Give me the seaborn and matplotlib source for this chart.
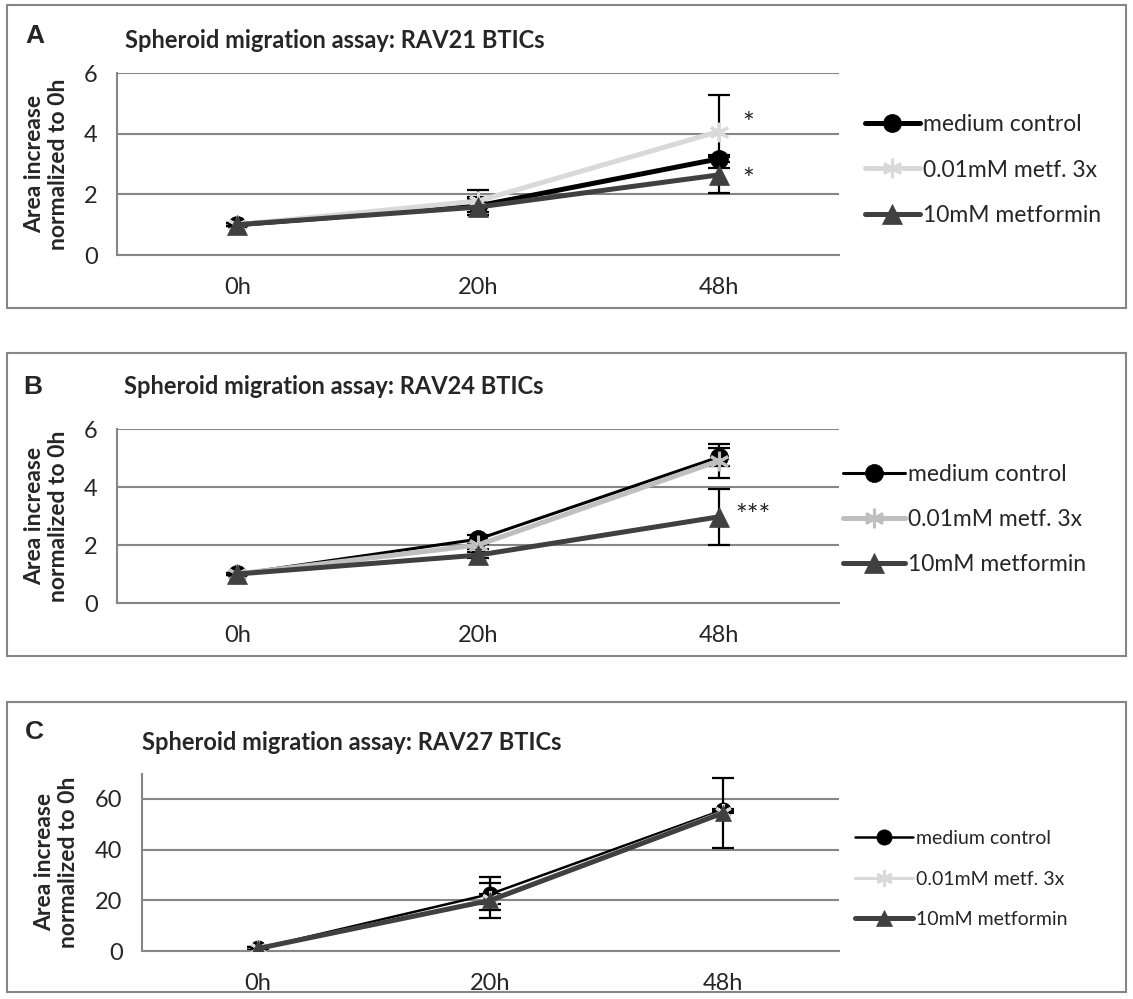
import matplotlib
matplotlib.use("Agg")
import matplotlib.pyplot as plt
import numpy as np
import seaborn as sns
from matplotlib.patches import Rectangle

# categories and series names
times = ["0h", "20h", "48h"]
series_names = ["medium control", "0.01mM metf. 3x", "10mM metformin"]

# panel A: RAV21 BTICs
rav21_control = [1.0, 1.62, 3.17]
rav21_low = [1.0, 1.78, 4.07]
rav21_high = [1.0, 1.58, 2.64]
rav21_control_err = [0.05, 0.30, 0.12]
rav21_low_err = [0.05, 0.35, 1.20]
rav21_high_err = [0.05, 0.25, 0.60]

# panel B: RAV24 BTICs
rav24_control = [1.0, 2.20, 5.03]
rav24_low = [1.0, 2.00, 4.90]
rav24_high = [1.0, 1.65, 2.97]
rav24_control_err = [0.05, 0.15, 0.30]
rav24_low_err = [0.05, 0.15, 0.60]
rav24_high_err = [0.05, 0.10, 0.97]

# panel C: RAV27 BTICs
rav27_control = [1.0, 22.5, 55.6]
rav27_low = [1.0, 20.5, 55.0]
rav27_high = [1.0, 20.0, 54.4]
rav27_control_err = [0.5, 6.5, 0.5]
rav27_low_err = [0.5, 2.0, 0.5]
rav27_high_err = [0.5, 7.0, 13.8]

sns.set_style("white")
plt.rcParams["font.family"] = ["Lato", "DejaVu Sans"]

GRID = "#868686"
DPI = 100
W, H = 1133, 999

fig = plt.figure(figsize=(W / DPI, H / DPI), dpi=DPI)


def px_axes(left, right, top, bottom):
    return fig.add_axes([left / W, 1 - bottom / H, (right - left) / W, (bottom - top) / H])


def box(left, right, top, bottom):
    fig.patches.append(Rectangle((left / W, 1 - bottom / H), (right - left) / W, (bottom - top) / H,
                                 transform=fig.transFigure, fill=False, edgecolor=GRID, lw=1.5))


def style_axes(ax, ymax, yticks, fs):
    ax.set_xlim(-0.5, len(times) - 0.5)
    ax.set_ylim(0, ymax)
    ax.set_xticks(np.arange(len(times)))
    ax.set_xticklabels(times)
    ax.set_xticks(np.arange(len(times) + 1) - 0.5, minor=True)
    ax.set_yticks(yticks)
    ax.tick_params(axis="x", which="major", length=0, pad=16, labelsize=fs)
    ax.tick_params(axis="x", which="minor", length=8, width=1.5, color=GRID, direction="out")
    ax.tick_params(axis="y", length=7, width=1.5, color=GRID, direction="out", pad=7, labelsize=fs)
    ax.yaxis.grid(True, color=GRID, lw=1.5)
    ax.set_axisbelow(True)
    for s in ["top", "right"]:
        ax.spines[s].set_visible(False)
    for s in ["left", "bottom"]:
        ax.spines[s].set_color(GRID)
        ax.spines[s].set_linewidth(1.5)
    ax.set_xlabel("")


def draw_panel(ax, data, errs, colors, lws, msizes, legend_kw):
    x = np.arange(len(times))
    markers = ["o", (6, 2, 0), "^"]
    for i, (vals, err) in enumerate(zip(data, errs)):
        ax.errorbar(x, vals, yerr=err, fmt="none", ecolor="black", elinewidth=1.6,
                    capsize=8, capthick=1.6, zorder=2.5)
        sns.lineplot(x=x, y=vals, ax=ax, color=colors[i], lw=lws[i], marker=markers[i],
                     markersize=msizes[i], markeredgecolor=colors[i],
                     markeredgewidth=2.2 if i == 1 else 0.5,
                     label=series_names[i], zorder=3 + i)
    ax.legend(frameon=False, loc="center left", borderpad=0, borderaxespad=0, **legend_kw)


def ylabel(ax, xpos, fs=16.5):
    ax.set_ylabel("Area increase\nnormalized to 0h", fontweight="bold", fontsize=fs)
    ax.yaxis.set_label_coords(xpos, 0.5)


# ---------- panel A ----------
box(7, 1126, 5, 308)
axA = px_axes(117, 839, 73, 255)
draw_panel(axA, [rav21_control, rav21_low, rav21_high],
           [rav21_control_err, rav21_low_err, rav21_high_err],
           ["black", "#d9d9d9", "#404040"], [3.6, 3.6, 3.6], [13, 14, 14],
           dict(bbox_to_anchor=(1.036, 0.467), fontsize=16.5, handlelength=2.4,
                handletextpad=0.12, labelspacing=1.05))
style_axes(axA, 6, [0, 2, 4, 6], 17)
ylabel(axA, -0.066)
axA.text(2.1, 4.3, "*", fontsize=20, ha="left", va="center")
axA.text(2.1, 2.45, "*", fontsize=20, ha="left", va="center")
fig.text(125 / W, 1 - 40 / H, "Spheroid migration assay: RAV21 BTICs", fontweight="bold",
         fontsize=17, va="center", ha="left")
fig.text(25 / W, 1 - 36 / H, "A", fontweight="bold", fontsize=19, va="center", ha="left",
         family="Liberation Sans")

# ---------- panel B ----------
box(7, 1126, 353, 656)
axB = px_axes(117, 839, 429, 603)
draw_panel(axB, [rav24_control, rav24_low, rav24_high],
           [rav24_control_err, rav24_low_err, rav24_high_err],
           ["black", "#bfbfbf", "#404040"], [2.2, 3.6, 3.6], [13, 14, 14],
           dict(bbox_to_anchor=(1.006, 0.48), fontsize=16.5, handlelength=2.7,
                handletextpad=0.12, labelspacing=1.05))
style_axes(axB, 6, [0, 2, 4, 6], 17)
ylabel(axB, -0.066)
axB.text(2.07, 2.95, "***", fontsize=20, ha="left", va="center")
fig.text(124 / W, 1 - 387 / H, "Spheroid migration assay: RAV24 BTICs", fontweight="bold",
         fontsize=17, va="center", ha="left")
fig.text(23 / W, 1 - 387 / H, "B", fontweight="bold", fontsize=19, va="center", ha="left",
         family="Liberation Sans")

# ---------- panel C ----------
box(7, 1126, 702, 992)
axC = px_axes(142, 839, 773.5, 951)
draw_panel(axC, [rav27_control, rav27_low, rav27_high],
           [rav27_control_err, rav27_low_err, rav27_high_err],
           ["black", "#d9d9d9", "#404040"], [1.8, 2.2, 3.6], [11, 12, 12],
           dict(bbox_to_anchor=(1.023, 0.405), fontsize=14, handlelength=3.0,
                handletextpad=0.12, labelspacing=1.2))
style_axes(axC, 70, [0, 20, 40, 60], 17)
ylabel(axC, -0.09)
fig.text(142 / W, 1 - 742 / H, "Spheroid migration assay: RAV27 BTICs", fontweight="bold",
         fontsize=17, va="center", ha="left")
fig.text(25 / W, 1 - 732 / H, "C", fontweight="bold", fontsize=19, va="center", ha="left",
         family="Liberation Sans")

fig.savefig("out.png", dpi=DPI)
